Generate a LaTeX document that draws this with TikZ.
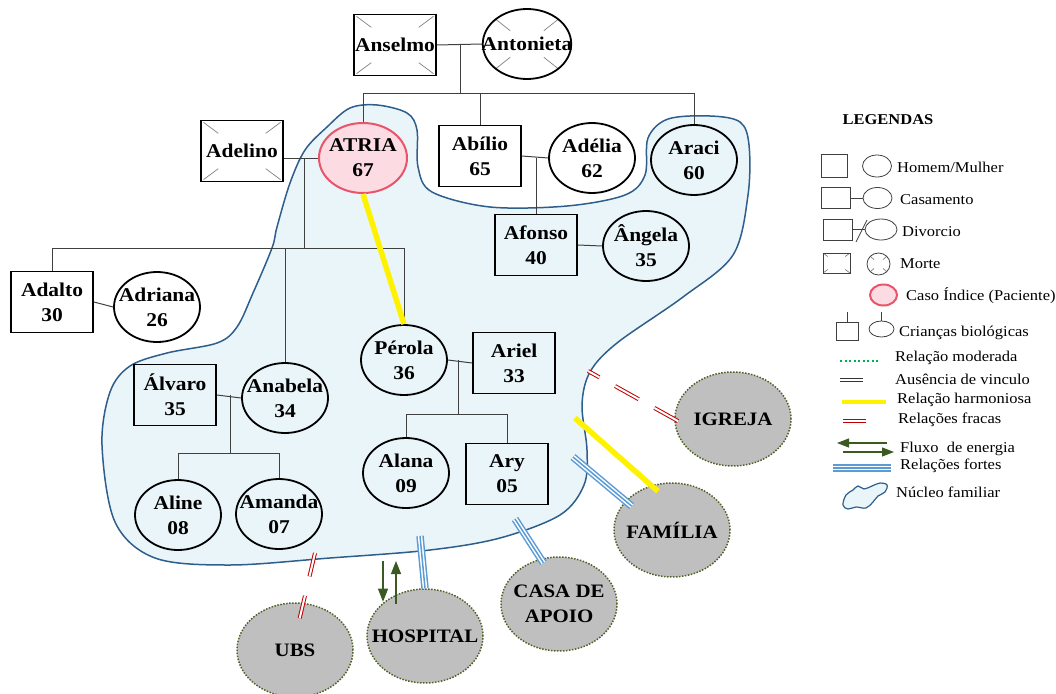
\documentclass[tikz,border=0pt]{standalone}
\usepackage{fontspec}
\setmainfont{Liberation Serif}[FakeStretch=1.1]
\usetikzlibrary{shapes.geometric,arrows.meta,calc}

\definecolor{nucleofill}{HTML}{EAF5F9}
\definecolor{nucleodraw}{HTML}{2E5E8C}
\definecolor{indexfill}{HTML}{FCDCE2}
\definecolor{indexdraw}{HTML}{E9546B}
\definecolor{fortecol}{HTML}{5B9BD5}
\definecolor{fracacol}{HTML}{C00000}
\definecolor{fluxocol}{HTML}{3B5A22}
\definecolor{extfill}{HTML}{BFBFBF}
\definecolor{extdraw}{HTML}{4F6228}
\definecolor{moderadacol}{HTML}{00B050}

\tikzset{
  person/.style={draw, line width=1.8pt, align=center,
    font=\fontsize{19.5}{25}\selectfont\bfseries},
  male/.style={person, rectangle, inner sep=1pt,
    minimum width=82pt, minimum height=61pt},
  female/.style={person, ellipse, inner xsep=-14pt, inner ysep=0pt,
    minimum width=86pt, minimum height=70pt},
  dead/.style 2 args={path picture={
    \foreach \corner in {north west,north east,south west,south east}
      \draw[gray, line width=0.7pt]
        ($(path picture bounding box.\corner)!#1!(path picture bounding box.center)$) --
        ($(path picture bounding box.\corner)!#2!(path picture bounding box.center)$);}},
  index/.style={fill=indexfill, draw=indexdraw, line width=2pt},
  external/.style={ellipse, fill=extfill, draw=extdraw, line width=1.5pt,
    dash pattern=on 1.5pt off 1.5pt, align=center,
    inner xsep=-16pt, inner ysep=0pt,
    minimum width=116pt, minimum height=94pt,
    font=\fontsize{19}{25}\selectfont\bfseries},
  rel/.style={draw=black!75, line width=1pt},
  harmonious/.style={draw=yellow, line width=5.5pt},
  weak/.style={draw=fracacol, line width=1pt, double=white, double distance=2pt},
  absent/.style={draw=black!80, line width=1pt, double=white, double distance=1.5pt},
  strong/.style={draw=fortecol, line width=1.5pt,
    preaction={draw=fortecol, line width=7.5pt},
    preaction={draw=white, line width=4.5pt}},
  flow/.style={draw=fluxocol, line width=1.1pt, -{Triangle[length=13pt,width=10pt]}},
  moderate/.style={draw=moderadacol, line width=1.5pt, dash pattern=on 2pt off 2.5pt},
  legsym/.style={draw=black!75, line width=0.8pt, inner sep=0pt},
  legtext/.style={anchor=west, inner sep=0pt, font=\fontsize{15}{17}\selectfont},
}

\begin{document}
\begin{tikzpicture}[x=1pt, y=-1pt]
\useasboundingbox (0,0) rectangle (1056,693);

% nucleo familiar
\path[draw=nucleodraw, fill=nucleofill, line width=1.5pt]
  plot[smooth cycle, tension=0.55] coordinates {
    (377,105) (407,113) (417,130) (418,167) (432,192) (490,207) (567,206)
    (625,195) (645,175) (648,138) (668,119) (710,116) (740,122) (749,145)
    (748,195) (733,255) (683,297) (617,343) (590,372) (582,405) (587,450)
    (584,485) (560,515) (500,538) (430,550) (330,558) (230,565) (155,558)
    (115,522) (102,445) (110,392) (130,366) (167,353) (217,343) (237,327)
    (253,293) (272,248) (277,227) (290,183) (305,150) (327,127) (350,108)};

% pessoas
\node[male, dead={0.06}{0.42}] (anselmo) at (395,45) {Anselmo};
\node[female, dead={0.25}{0.62}] (antonieta) at (527,44) {Antonieta};
\node[male, dead={0.06}{0.42}] (adelino) at (242,151) {Adelino};
\node[female, index, minimum width=88pt] (atria) at (363,158) {ATRIA\\67};
\node[male] (abilio) at (480,156) {Abílio\\65};
\node[female] (adelia) at (592,158) {Adélia\\62};
\node[female] (araci) at (694,160) {Araci\\60};
\node[male] (afonso) at (536,245) {Afonso\\40};
\node[female] (angela) at (646,246) {Ângela\\35};
\node[male] (adalto) at (52,302) {Adalto\\30};
\node[female] (adriana) at (157,307) {Adriana\\26};
\node[male] (alvaro) at (175,395) {Álvaro\\35};
\node[female] (anabela) at (285,398) {Anabela\\34};
\node[female] (aline) at (178,515) {Aline\\08};
\node[female] (amanda) at (279,514) {Amanda\\07};
\node[female] (perola) at (404,360) {Pérola\\36};
\node[male] (ariel) at (514,363) {Ariel\\33};
\node[female] (alana) at (406,473) {Alana\\09};
\node[male] (ary) at (507,474) {Ary\\05};

% ecomapa
\node[external] (igreja) at (733,419) {IGREJA};
\node[external] (familia) at (672,530) {FAMÍLIA};
\node[external] (casa) at (559,604) {CASA DE\\APOIO};
\node[external] (hospital) at (425,636) {HOSPITAL};
\node[external] (ubs) at (295,650) {UBS};

% genograma
\coordinate (top) at (460,93);
\draw[rel] (anselmo.east) -- (antonieta.west);
\draw[rel] (top |- anselmo.east) -- (top);
\draw[rel] (atria.north) |- (araci.north |- top) -- (araci.north);
\draw[rel] (abilio.north) -- (abilio.north |- top);

\coordinate (adbar) at (304,248);
\draw[rel] (adelino.east |- atria.west) -- (atria.west);
\draw[rel] (adbar |- atria.west) -- (adbar);
\draw[rel] (adalto.north) |- (perola.north |- adbar) -- (perola.north);
\draw[rel] (anabela.north) -- (anabela.north |- adbar);
\draw[rel] (adalto.east) -- (adriana.west);

\draw[rel] (abilio.east) -- (adelia.west);
\draw[rel] (afonso.north) -- (afonso.north |- adelia.west);
\draw[rel] (afonso.east) -- (angela.west);

\coordinate (pbar) at (458,414);
\draw[rel] (perola.east) -- (ariel.west);
\draw[rel] (pbar |- perola.east) -- (pbar);
\draw[rel] (alana.north) |- (ary.north |- pbar) -- (ary.north);

\coordinate (abar) at (230,453);
\draw[rel] (alvaro.east) -- (anabela.west);
\draw[rel] (abar |- alvaro.east) -- (abar);
\draw[rel] (aline.north) |- (amanda.north |- abar) -- (amanda.north);

% relacoes
\coordinate (igrejaline) at (588,371);
\coordinate (famharm) at (575,418);
\coordinate (famforte) at (573,457);
\coordinate (casaforte) at (515,519);
\coordinate (hospforte) at (420,536);
\coordinate (ubsline) at (315,553);
\coordinate (flowin) at (383,561);
\coordinate (flowout) at (396,604);

\draw[harmonious] (atria.south) -- (perola.north);
\draw[harmonious, shorten >=-9pt] (famharm) -- (familia.115);
\draw[weak, dash pattern=on 27pt off 18pt, dash phase=14pt, shorten >=-8pt] (igrejaline) -- (igreja.west);
\draw[strong, shorten >=-8pt] (famforte) -- (familia.148);
\draw[strong, shorten >=-5pt] (casaforte) -- (casa.112);
\draw[strong] (hospforte) -- (hospital.north);
\draw[weak, dash pattern=on 24pt off 20pt, shorten >=-16pt] (ubsline) -- (ubs.80);
\draw[flow] (flowin) -- (flowin |- hospital.140);
\draw[flow] (flowout) -- (flowout |- flowin);

% legendas
\node[font=\fontsize{15}{17}\selectfont\bfseries] (legendas) at (888,120) {LEGENDAS};

\node[legsym, rectangle, minimum width=26pt, minimum height=23pt] (lhomem) at (834,166) {};
\node[legsym, ellipse, minimum width=29pt, minimum height=22pt] (lmulher) at (877,166) {};
\node[legtext] (thomem) at (897,167) {Homem/Mulher};

\node[legsym, rectangle, minimum width=29pt, minimum height=21pt] (lcash) at (835.5,198) {};
\node[legsym, ellipse, minimum width=29pt, minimum height=21pt] (lcasm) at (877.5,198) {};
\draw[legsym] (lcash.east) -- (lcasm.west);
\node[legtext] (tcas) at (900,200) {Casamento};

\node[legsym, rectangle, minimum width=29pt, minimum height=21pt] (ldivh) at (837.5,229.5) {};
\node[legsym, ellipse, minimum width=32pt, minimum height=21pt] (ldivm) at (881,229.5) {};
\draw[legsym] (ldivh.east) -- (ldivm.west);
\draw[legsym] (856,242) -- (867,220);
\node[legtext] (tdiv) at (902,232) {Divorcio};

\node[legsym, rectangle, minimum width=27pt, minimum height=20pt, dead={0}{0.35}] (lmorh) at (836.5,263) {};
\node[legsym, ellipse, minimum width=23pt, minimum height=22pt, dead={0.2}{0.6}] (lmorm) at (878.5,264) {};
\node[legtext] (tmor) at (900,264) {Morte};

\node[ellipse, index, minimum width=27pt, minimum height=21pt, inner sep=0pt] (lindex) at (883.5,295) {};
\node[legtext] (tindex) at (906,296) {Caso Índice (Paciente)};

\node[legsym, rectangle, minimum width=22pt, minimum height=18pt] (lcrih) at (847,331) {};
\node[legsym, ellipse, minimum width=25pt, minimum height=16pt] (lcrim) at (881.5,329) {};
\draw[legsym] (lcrih.north) -- ++(0,-10);
\draw[legsym] (lcrim.north) -- ++(0,-9);
\node[legtext] (tcri) at (899,333) {Crianças biológicas};

\draw[moderate] (840,361) -- (880,361);
\node[legtext] (tmod) at (895,358) {Relação moderada};

\draw[absent] (840,380) -- (863,380);
\node[legtext] (taus) at (895,379) {Ausência de vinculo};

\draw[harmonious, line width=4.5pt] (842,402) -- (886,402);
\node[legtext] (tharm) at (897,400) {Relação harmoniosa};

\draw[weak] (843,421) -- (866,421);
\node[legtext] (tfra) at (898,420) {Relações fracas};

\draw[flow, -{Triangle[length=12pt,width=9pt]}] (887,443) -- (837,443);
\draw[flow, -{Triangle[length=12pt,width=9pt]}] (843,452) -- (894,452);
\node[legtext] (tflu) at (900,449) {Fluxo~ de energia};

\draw[strong] (833,468) -- (891,468);
\node[legtext] (tfor) at (900,466) {Relações fortes};

\path[draw=nucleodraw, fill=nucleofill, line width=1.2pt]
  plot[smooth cycle, tension=0.6] coordinates {
    (843,505) (846,495) (853,490) (858,486) (864,489) (872,486) (880,483)
    (887,485) (885,492) (878,496) (873,502) (866,508) (856,507) (848,509)};
\node[legtext] (tnuc) at (896,492) {Núcleo familiar};
\end{tikzpicture}
\end{document}
